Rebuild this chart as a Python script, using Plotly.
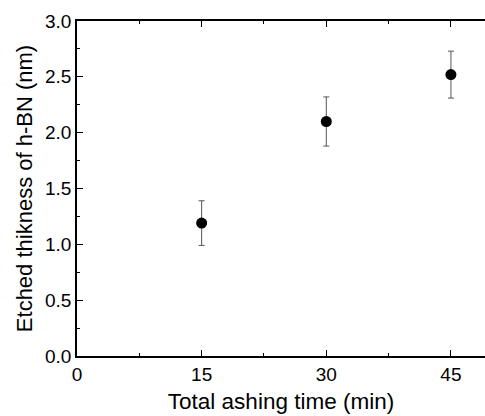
import plotly.graph_objects as go

time_min = [15, 30, 45]
thickness_nm = [1.19, 2.10, 2.52]
err_nm = [0.20, 0.22, 0.21]
x_ticks = [0, 15, 30, 45]
x_minor = [7.5, 22.5, 37.5]
y_ticks = [0.0, 0.5, 1.0, 1.5, 2.0, 2.5, 3.0]
y_minor = [0.25, 0.75, 1.25, 1.75, 2.25, 2.75]

fig = go.Figure()
fig.add_trace(go.Scatter(
    x=time_min, y=thickness_nm, mode="markers",
    marker=dict(color="black", size=11),
    error_y=dict(type="data", array=err_nm, color="#555555", thickness=1, width=3),
    showlegend=False,
))

font = "Liberation Sans, Arial, sans-serif"
fig.update_layout(
    width=485, height=416,
    margin=dict(l=77, r=0, t=21, b=60),
    paper_bgcolor="white", plot_bgcolor="white",
    font=dict(family=font, color="black", size=19),
)
fig.update_xaxes(
    range=[0, 49.1], tickvals=x_ticks, ticktext=[str(v) for v in x_ticks],
    showgrid=False, zeroline=False, showline=True, linecolor="black", linewidth=1.5,
    mirror="ticks", ticks="inside", ticklen=6, tickwidth=1.2, tickcolor="black",
    minor=dict(tickvals=x_minor, ticks="inside", ticklen=3, tickwidth=1.2, tickcolor="black"),
    tickfont=dict(size=19),
    title=dict(text="Total ashing time (min)", font=dict(size=22.5), standoff=10),
)
fig.update_yaxes(
    range=[0, 3.0], tickvals=y_ticks, ticktext=[f"{v:.1f}" for v in y_ticks],
    showgrid=False, zeroline=False, showline=True, linecolor="black", linewidth=1.5,
    mirror=False, ticks="inside", ticklen=6, tickwidth=1.2, tickcolor="black",
    minor=dict(tickvals=y_minor, ticks="inside", ticklen=3, tickwidth=1.2, tickcolor="black"),
    tickfont=dict(size=19),
    title=dict(text="Etched thikness of h-BN (nm)", font=dict(size=22), standoff=6),
)

fig.write_html("out.html")
